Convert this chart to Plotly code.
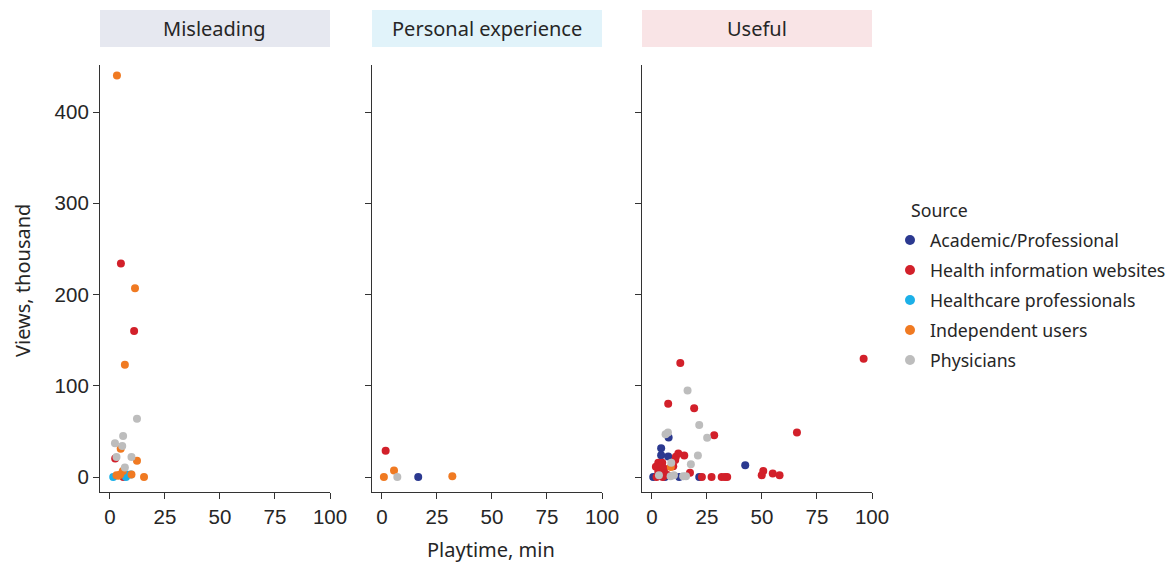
import plotly.graph_objects as go

W, H = 1175, 562

panels = ["Misleading", "Personal experience", "Useful"]
strip_colors = ["#E6E8F0", "#E1F3FA", "#F9E4E6"]
sources = ["Academic/Professional", "Health information websites",
           "Healthcare professionals", "Independent users", "Physicians"]
colors = ["#2B3990", "#D2202A", "#1CB0E8", "#F07A22", "#BDBDBD"]

# ---- data: playtime (min) and views (thousand) per panel and source ----
mis_academic_x = []
mis_academic_y = []
mis_health_x = [5.0, 11.0, 2.4, 6.1]
mis_health_y = [234, 160, 20.5, 0.0]
mis_hcp_x = [1.5, 7.3, 7.6, 9.5]
mis_hcp_y = [0.0, 0.0, 3.0, 3.0]
mis_indep_x = [3.2, 11.4, 6.8, 4.9, 12.3, 5.9, 4.7, 3.0, 9.8, 15.5, 3.8]
mis_indep_y = [440, 207, 123, 31, 18, 6.6, 3.0, 2.0, 3.0, 0.0, 1.4]
mis_phys_x = [12.3, 6.0, 2.3, 5.6, 3.0, 9.8, 6.8]
mis_phys_y = [64, 45, 37, 34, 22, 22, 10.6]

per_academic_x = [16.5]
per_academic_y = [0.0]
per_health_x = [1.7]
per_health_y = [29]
per_hcp_x = []
per_hcp_y = []
per_indep_x = [5.5, 0.9, 32.0]
per_indep_y = [7.3, 0.0, 1.0]
per_phys_x = [7.0]
per_phys_y = [0.0]

use_academic_x = [7.6, 4.2, 4.2, 7.4, 42.4, 0.6, 5.9, 12.4, 21.5]
use_academic_y = [43.5, 31.5, 24, 22.7, 13, 0.0, 0.0, 0.0, 0.0]
use_health_x = [12.9, 7.4, 19.2, 28.3, 12.0, 14.7, 10.9, 10.6, 2.9, 4.7, 1.8,
                3.9, 5.5, 2.9, 5.9, 7.0, 9.7, 2.1, 4.9, 17.3, 22.7, 27.1,
                31.7, 33.2, 34.2, 96.2, 65.9, 50.6, 49.9, 54.9, 58.0]
use_health_y = [125, 80.5, 75.5, 46, 26, 23.8, 22.3, 18.7, 15.7, 15.7, 11.3,
                11.3, 9.5, 5.8, 4.0, 2.2, 12, 0.0, 0.0, 4.7, 0.0, 0.0,
                0.0, 0.0, 0.0, 129.7, 49, 6.6, 2.0, 4.0, 2.0]
use_hcp_x = []
use_hcp_y = []
use_indep_x = [8.6]
use_indep_y = [11]
use_phys_x = [16.2, 21.5, 25.1, 7.3, 6.2, 20.9, 17.7, 8.8, 3.2, 8.5, 10.0, 14.2, 15.5]
use_phys_y = [95, 57, 43, 49, 47, 23.8, 14, 15.7, 2.0, 1.0, 2.0, 1.0, 1.0]

x_ticks = [0, 25, 50, 75, 100]
y_ticks = [0, 100, 200, 300, 400]

data = {
    "Misleading": [(mis_academic_x, mis_academic_y), (mis_health_x, mis_health_y),
                   (mis_hcp_x, mis_hcp_y), (mis_indep_x, mis_indep_y),
                   (mis_phys_x, mis_phys_y)],
    "Personal experience": [(per_academic_x, per_academic_y), (per_health_x, per_health_y),
                            (per_hcp_x, per_hcp_y), (per_indep_x, per_indep_y),
                            (per_phys_x, per_phys_y)],
    "Useful": [(use_academic_x, use_academic_y), (use_health_x, use_health_y),
               (use_hcp_x, use_hcp_y), (use_indep_x, use_indep_y),
               (use_phys_x, use_phys_y)],
}

# ---- layout geometry (pixels) ----
panel_px = [(100, 330), (372, 602), (642, 872)]
plot_top, plot_bottom = 65, 492
strip_top, strip_bottom = 10, 47

def px_x(p):
    return p / W

def px_y(p):
    return 1 - p / H

text_color = "#262626"
txt_font = "Noto Sans"

fig = go.Figure()

for si, src in enumerate(sources):
    for pi, pname in enumerate(panels):
        axn = "" if pi == 0 else str(pi + 1)
        xs, ys = data[pname][si]
        fig.add_trace(go.Scatter(
            x=xs, y=ys, mode="markers",
            marker=dict(color=colors[si], size=8, line=dict(width=0)),
            name=src, legendgroup=src, showlegend=False,
            xaxis="x" + axn, yaxis="y" + axn, hoverinfo="x+y+name",
        ))
    # legend entry (slightly larger key, as in the reference)
    fig.add_trace(go.Scatter(
        x=[None], y=[None], mode="markers",
        marker=dict(color=colors[si], size=10, line=dict(width=0)),
        name=src, legendgroup=src, showlegend=True,
        xaxis="x", yaxis="y", hoverinfo="skip",
    ))

axis_font = dict(family="Liberation Sans", size=20.5, color=text_color)
layout = dict(
    width=W, height=H,
    margin=dict(l=0, r=0, t=0, b=0, autoexpand=False),
    paper_bgcolor="white", plot_bgcolor="white",
    showlegend=True,
    legend=dict(
        xref="container", yref="container",
        x=px_x(890), y=px_y(222), xanchor="left", yanchor="top",
        font=dict(family=txt_font, size=17.7, color=text_color),
        tracegroupgap=4, itemsizing="trace", bgcolor="rgba(0,0,0,0)",
        borderwidth=0,
    ),
    shapes=[], annotations=[],
)

for pi, pname in enumerate(panels):
    axn = "" if pi == 0 else str(pi + 1)
    x0, x1 = panel_px[pi]
    layout["xaxis" + axn] = dict(
        domain=[px_x(x0), px_x(x1)], range=[-4.5, 100],
        tickvals=x_ticks, ticks="outside", ticklen=6, tickwidth=1.2,
        tickcolor="#333333", showline=True, linecolor="#333333", linewidth=1.2,
        showgrid=False, zeroline=False, tickfont=axis_font,
        anchor="y" + axn,
    )
    layout["yaxis" + axn] = dict(
        domain=[px_y(plot_bottom), px_y(plot_top)], range=[-16.3, 451.5],
        tickvals=y_ticks, ticks="outside", ticklen=6, tickwidth=1.2,
        tickcolor="#333333", showline=True, linecolor="#333333", linewidth=1.2,
        showgrid=False, zeroline=False, tickfont=axis_font,
        showticklabels=(pi == 0), anchor="x" + axn,
    )
    layout["shapes"].append(dict(
        type="rect", xref="paper", yref="paper",
        x0=px_x(x0), x1=px_x(x1), y0=px_y(strip_bottom), y1=px_y(strip_top),
        fillcolor=strip_colors[pi], line=dict(width=0), layer="below",
    ))
    layout["annotations"].append(dict(
        text=pname, xref="paper", yref="paper",
        x=px_x((x0 + x1) / 2), y=px_y((strip_top + strip_bottom) / 2),
        xanchor="center", yanchor="middle", showarrow=False,
        font=dict(family=txt_font, size=20, color=text_color),
    ))

layout["annotations"].append(dict(
    text="Source", xref="paper", yref="paper",
    x=px_x(909), y=px_y(210), xanchor="left", yanchor="middle", showarrow=False,
    font=dict(family=txt_font, size=17.7, color=text_color),
))
layout["annotations"].append(dict(
    text="Playtime, min", xref="paper", yref="paper",
    x=px_x(491), y=px_y(549), xanchor="center", yanchor="middle", showarrow=False,
    font=dict(family=txt_font, size=20, color=text_color),
))
layout["annotations"].append(dict(
    text="Views, thousand", xref="paper", yref="paper",
    x=px_x(22), y=px_y(281), xanchor="center", yanchor="middle", showarrow=False,
    textangle=-90, font=dict(family=txt_font, size=20, color=text_color),
))

fig.update_layout(**layout)
fig.write_html(
    "out.html",
    config={"displayModeBar": False},
    post_script="document.body.style.margin='0';document.body.style.overflow='hidden';",
)
